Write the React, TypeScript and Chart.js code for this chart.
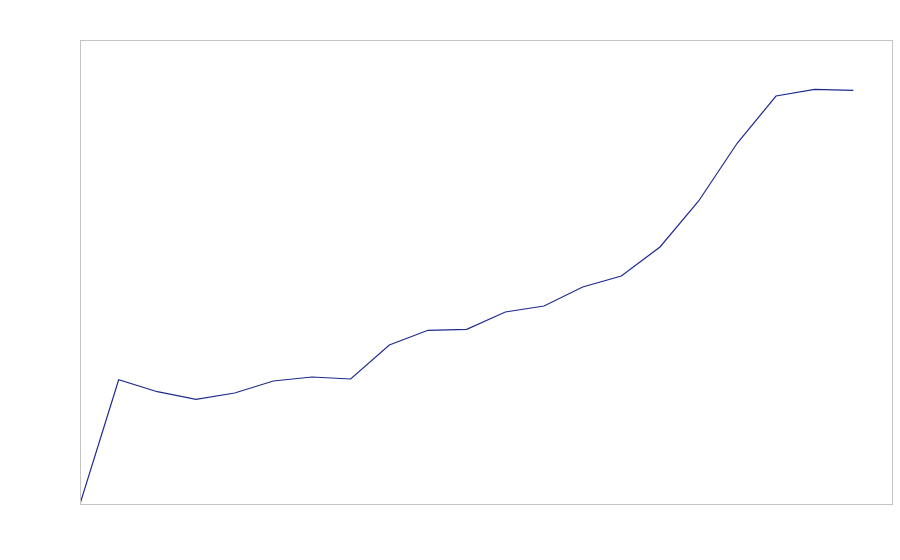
import React, { useEffect, useRef } from "react";
import { Chart, registerables } from "chart.js";

Chart.register(...registerables);

const positions: number[] = [0, 1, 2, 3, 4, 5, 6, 7, 8, 9, 10, 11, 12, 13, 14, 15, 16, 17, 18, 19, 20];
const values: number[] = [0, 124.3, 112.3, 104.7, 111, 123, 127, 125, 159, 173.7, 174.7, 192, 198, 217, 228, 257, 303, 361, 408, 414.7, 413.7];

const framePlugin = {
  id: "frame",
  afterDraw(chart: any) {
    const { ctx, chartArea } = chart;
    ctx.save();
    ctx.strokeStyle = "#c4c4c4";
    ctx.lineWidth = 1;
    ctx.strokeRect(
      Math.round(chartArea.left) + 0.5,
      Math.round(chartArea.top) + 0.5,
      Math.round(chartArea.right - chartArea.left),
      Math.round(chartArea.bottom - chartArea.top)
    );
    ctx.restore();
  },
};

export default function App() {
  const ref = useRef<HTMLCanvasElement | null>(null);
  useEffect(() => {
    if (!ref.current) return;
    const chart = new Chart(ref.current, {
      type: "line",
      data: {
        datasets: [
          {
            data: positions.map((x, i) => ({ x, y: values[i] })),
            borderColor: "#1e2a8c",
            borderWidth: 1.2,
            pointRadius: 0,
            tension: 0,
            fill: false,
          },
        ],
      },
      options: {
        animation: false,
        responsive: true,
        maintainAspectRatio: false,
        layout: { padding: { left: 80, top: 40, right: 8, bottom: 56 } },
        plugins: { legend: { display: false }, tooltip: { enabled: false } },
        scales: {
          x: { type: "linear", min: 0, max: 21, display: false },
          y: { min: 0, max: 464, display: false },
        },
      },
      plugins: [framePlugin],
    });
    return () => chart.destroy();
  }, []);
  return (
    <div style={{ position: "fixed", left: 0, top: 0, width: 900, height: 560, background: "#fff" }}>
      <canvas ref={ref} />
    </div>
  );
}
